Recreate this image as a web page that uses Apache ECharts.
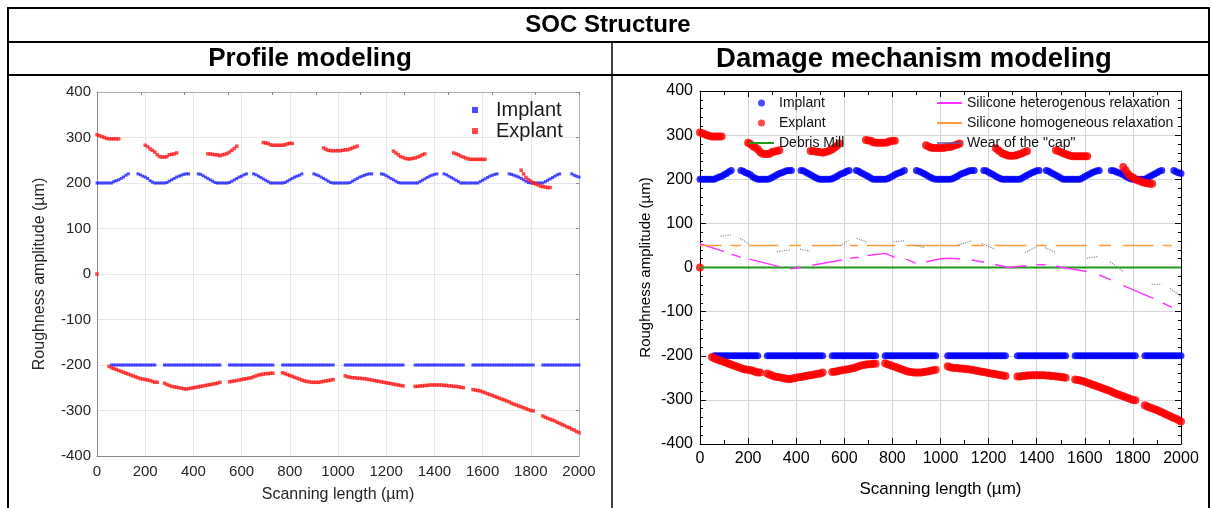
<!DOCTYPE html>
<html><head><meta charset="utf-8">
<script src="https://cdn.jsdelivr.net/npm/echarts@6/dist/echarts.min.js"></script>
<style>html,body{margin:0;padding:0;background:#fff}#c{width:1213px;height:508px}</style>
</head><body><div id="c"></div><script>
// ---------- data (x in µm, y in µm) ----------
const STEP = 10; // sampling step of the scan (µm)
const xTickLabels = [0,200,400,600,800,1000,1200,1400,1600,1800,2000];
const yTickLabels = [-400,-300,-200,-100,0,100,200,300,400];

// Implant, upper profile: [start x, values every STEP]
const implantUpper = [
  [0,    [200,200,200,200,200,200,200,203,205,207,210,213,217,220]],
  [170,  [220,218,215,213,210,205,202,200,200,200,200,200,201,204,207,210,213,215,217,219,220,220]],
  [420,  [220,219,216,213,210,207,204,201,200,200,200,200,200,201,204,207,210,213,215,218,220]],
  [650,  [220,218,215,212,209,206,203,200,200,200,200,200,200,201,204,207,210,213,215,217,220]],
  [900,  [220,218,216,213,210,207,204,201,200,200,200,200,200,200,200,201,204,207,210,213,215,217,219,220,220]],
  [1180, [220,219,216,213,210,207,204,201,200,200,200,200,200,200,200,200,203,206,209,212,215,217,219,220]],
  [1440, [220,218,215,212,209,206,203,200,200,200,200,200,200,200,200,203,206,209,212,215,217,219,220]],
  [1710, [220,219,217,215,213,210,207,204,201,200,200,200,200,200,200,203,206,209,212,215,218,220]],
  [1970, [220,217,215,213]]
];
// Implant, lower profile: flat level with gaps [from x, to x]
const implantLowerLevel = -200;
const implantLowerSpans = [[60,240],[280,510],[550,730],[770,980],[1030,1270],[1320,1520],[1560,1810],[1850,2000]];

// Explant, upper profile
const explantUpper = [
  [0,    [0]],
  [0,    [306,304,302,300,298,297,297,297,297,297]],
  [200,  [283,280,275,272,268,262,258,257,257,258,262,263,264,266]],
  [460,  [264,264,263,262,262,260,262,263,265,268,272,276,281]],
  [690,  [289,288,287,284,283,283,283,283,283,284,286,287,287]],
  [940,  [277,274,272,271,271,271,271,271,272,273,273,275,277,279,281]],
  [1230, [270,266,262,258,256,254,253,253,254,255,257,259,262,264]],
  [1480, [266,264,262,259,257,255,253,252,252,252,252,252,252,252]],
  [1760, [228,220,212,207,204,200,198,196,193,192,191,190,190]]
];
// Explant, lower profile
const explantLower = [
  [50,   [-203,-206,-208,-210,-212,-214,-216,-218,-220,-222,-224,-226,-228,-230,-231,-232,-233,-234,-236,-238,-238]],
  [280,  [-240,-243,-245,-247,-248,-249,-250,-251,-252,-253,-252,-251,-250,-249,-248,-247,-246,-245,-244,-243,-242,-241,-240,-238]],
  [550,  [-237,-236,-235,-234,-233,-232,-231,-230,-229,-228,-226,-224,-222,-221,-220,-219,-219,-218,-218]],
  [770,  [-217,-219,-221,-223,-225,-227,-229,-231,-233,-235,-236,-237,-238,-238,-238,-238,-237,-236,-235,-234,-233,-232]],
  [1030, [-224,-226,-227,-228,-228,-229,-229,-230,-230,-231,-232,-233,-234,-235,-236,-237,-238,-239,-240,-241,-242,-243,-244,-245,-246]],
  [1320, [-247,-247,-246,-246,-245,-245,-244,-244,-244,-244,-244,-244,-245,-245,-246,-246,-247,-247,-248,-249,-250]],
  [1560, [-254,-255,-256,-257,-259,-261,-263,-265,-267,-269,-271,-273,-275,-277,-279,-281,-284,-286,-288,-290,-292,-294,-296,-298,-300,-301]],
  [1850, [-312,-315,-317,-319,-321,-323,-326,-328,-331,-333,-336,-338,-341,-343,-346,-349]]
];

// Damage mechanism curves (right panel)
const debrisMill = [[0,0],[500,0],[1000,0],[1500,0],[2000,0]];
const heteroPieces = [
  [[0,54],[100,36]], [[132,30],[170,23]], [[205,19],[330,2]], [[375,-3],[420,0]],
  [[467,5],[590,17]], [[624,21],[660,23]], [[696,27],[770,32],[810,23]], [[857,19],[897,10]],
  [[940,13],[1000,20],[1040,21],[1081,19]], [[1130,17],[1181,12]], [[1227,7],[1283,0],[1358,4]],
  [[1400,6],[1437,6]], [[1479,3],[1608,-9]], [[1660,-17],[1709,-28]], [[1760,-41],[1885,-70]], [[1924,-80],[1961,-90]]
];
const homoLevel = 50;
const homoSpans = [[0,90],[127,170],[205,326],[371,420],[464,589],[624,658],[693,811],[857,1081],[1130,1181],
  [1227,1358],[1400,1441],[1479,1608],[1660,1709],[1760,1885],[1924,1961]];
const wearPieces = [
  [[85,71],[129,74]], [[166,66],[185,60],[208,51]], [[319,36],[374,40]], [[416,42],[457,37]],
  [[582,49],[617,62]], [[651,66],[693,58]], [[804,58],[852,61]], [[887,51],[935,45]],
  [[1074,51],[1127,60]], [[1171,55],[1227,41]], [[1351,34],[1400,47]], [[1435,45],[1479,34]],
  [[1608,21],[1656,25]], [[1705,13],[1760,-9]], [[1878,-38],[1920,-38]], [[1954,-47],[2000,-66]]
];

// ---------- builders ----------
function segPoints(segs){ const out=[]; segs.forEach(([x0,ys])=>ys.forEach((y,i)=>out.push([x0+i*STEP,y]))); return out; }
function spanPoints(spans, level){ const out=[]; spans.forEach(([a,b])=>{ for(let x=a;x<=b;x+=STEP) out.push([x,level]); }); return out; }
function piecesLine(pieces){ const out=[]; pieces.forEach((p,i)=>{ if(i) out.push([p[0][0]-1,'-']); p.forEach(pt=>out.push(pt)); }); return out; }
function spansLine(spans, level){ return piecesLine(spans.map(([a,b])=>[[a,level],[b,level]])); }

const implantData = segPoints(implantUpper).concat(spanPoints(implantLowerSpans, implantLowerLevel));
const explantData = segPoints(explantUpper).concat(segPoints(explantLower));

const FONT = 'Liberation Sans, Arial, sans-serif';
const chart = echarts.init(document.getElementById('c'), null, {renderer:'canvas'});
const plain = v => String(v);
const X_MIN = xTickLabels[0], X_MAX = xTickLabels[xTickLabels.length-1];
const Y_MIN = yTickLabels[0], Y_MAX = yTickLabels[yTickLabels.length-1];

const Lc = '#262626', Rc = '#000';
function xMain(gi, color, size, gridColor, margin, nameGap, nameSize, tickOpt, minor, lineColor){
  return {type:'value', gridIndex:gi, min:X_MIN, max:X_MAX, interval:200, position:'bottom',
    axisLine:{show:true, onZero:false, lineStyle:{color:lineColor, width:1}},
    axisTick:tickOpt, minorTick:minor,
    axisLabel:{color:color, fontSize:size, fontFamily:FONT, margin:margin, formatter:plain},
    splitLine:{show:true, lineStyle:{color:gridColor, width:1}},
    name:'Scanning length (µm)', nameLocation:'middle', nameGap:nameGap,
    nameTextStyle:{color:color, fontSize:nameSize, fontFamily:FONT}};
}
function yMain(gi, color, size, gridColor, margin, nameGap, nameSize, tickOpt, minor, lineColor){
  return {type:'value', gridIndex:gi, min:Y_MIN, max:Y_MAX, interval:100, position:'left',
    axisLine:{show:true, onZero:false, lineStyle:{color:lineColor, width:1}},
    axisTick:tickOpt, minorTick:minor,
    axisLabel:{color:color, fontSize:size, fontFamily:FONT, margin:margin, formatter:plain},
    splitLine:{show:true, lineStyle:{color:gridColor, width:1}},
    name:'Roughness amplitude (µm)', nameLocation:'middle', nameGap:nameGap,
    nameTextStyle:{color:color, fontSize:nameSize, fontFamily:FONT}};
}
const noSym = {opacity:0};

const option = {
  animation:false,
  backgroundColor:'#fff',
  grid:[
    {left:97, top:92, width:482, height:366},
    {left:700, top:91, width:481, height:353}
  ],
  xAxis:[
    xMain(0, Lc, 15, '#e6e6e6', 8, 31, 16, {show:false}, {show:false}, '#8a8a8a'),
    {type:'value', gridIndex:0, min:X_MIN, max:X_MAX, interval:182, position:'top',
      axisLine:{show:true, onZero:false, lineStyle:{color:'#b0b0b0'}}, axisLabel:{show:false},
      axisTick:{show:true, inside:true, length:3, lineStyle:{color:'#888'}}, splitLine:{show:false}},
    xMain(1, Rc, 16, '#d6d6d6', 7, 37, 17, {show:true, inside:true, length:6, lineStyle:{color:'#000'}},
      {show:true, splitNumber:2, length:4, lineStyle:{color:'#000'}}, '#000'),
    {type:'value', gridIndex:1, min:X_MIN, max:X_MAX, interval:200, position:'top',
      axisLine:{show:true, onZero:false, lineStyle:{color:'#000'}}, axisLabel:{show:false},
      axisTick:{show:true, inside:true, length:6, lineStyle:{color:'#000'}},
      minorTick:{show:true, splitNumber:2, length:4, lineStyle:{color:'#000'}}, splitLine:{show:false}}
  ],
  yAxis:[
    yMain(0, Lc, 15, '#e6e6e6', 6, 49, 16, {show:false}, {show:false}, '#8a8a8a'),
    {type:'value', gridIndex:0, min:Y_MIN, max:Y_MAX, interval:100, position:'right',
      axisLine:{show:true, onZero:false, lineStyle:{color:'#b0b0b0'}}, axisLabel:{show:false},
      axisTick:{show:true, inside:true, length:3, lineStyle:{color:'#888'}}, splitLine:{show:false}},
    yMain(1, Rc, 16, '#d6d6d6', 7, 47, 15, {show:true, inside:true, length:6, lineStyle:{color:'#000'}},
      {show:true, splitNumber:5, length:3, lineStyle:{color:'#000'}}, '#000'),
    {type:'value', gridIndex:1, min:Y_MIN, max:Y_MAX, interval:100, position:'right',
      axisLine:{show:true, onZero:false, lineStyle:{color:'#000'}}, axisLabel:{show:false},
      axisTick:{show:true, inside:true, length:6, lineStyle:{color:'#000'}},
      minorTick:{show:true, splitNumber:5, length:3, lineStyle:{color:'#000'}}, splitLine:{show:false}}
  ],
  legend:[
    {orient:'vertical', left:467, top:95, itemWidth:6, itemHeight:6, itemGap:1,
      textStyle:{fontSize:20, lineHeight:20, color:'#1a1a1a', fontFamily:FONT, padding:[0,0,0,13]},
      data:[{name:'Implant', icon:'rect'},{name:'Explant', icon:'rect'}], selectedMode:false},
    {orient:'vertical', left:743, top:91, itemWidth:25, itemHeight:7, itemGap:6,
      textStyle:{fontSize:14, lineHeight:14, color:'#111', fontFamily:FONT},
      data:[{name:'Implant', icon:'circle'},{name:'Explant', icon:'circle'},{name:'Debris Mill', itemStyle:noSym}], selectedMode:false},
    {orient:'vertical', left:931, top:91, itemWidth:25, itemHeight:7, itemGap:6,
      textStyle:{fontSize:14, lineHeight:14, color:'#111', fontFamily:FONT},
      data:[{name:'Silicone heterogenous relaxation', itemStyle:noSym},{name:'Silicone homogeneous relaxation', itemStyle:noSym},
        {name:'Wear of the "cap"', itemStyle:noSym, lineStyle:{color:'#5b5ba0', type:'solid', width:1.5}}], selectedMode:false}
  ],
  series:[
    {name:'Implant', type:'scatter', xAxisIndex:0, yAxisIndex:0, data:implantData, symbol:'rect', symbolSize:3,
      itemStyle:{color:'#1f1fff'}},
    {name:'Explant', type:'scatter', xAxisIndex:0, yAxisIndex:0, data:explantData, symbol:'rect', symbolSize:3.5,
      itemStyle:{color:'#ff1a1a'}},
    {name:'Implant', type:'scatter', xAxisIndex:2, yAxisIndex:2, data:implantData, symbol:'circle', symbolSize:7,
      itemStyle:{color:'#0000ff'}},
    {name:'Explant', type:'scatter', xAxisIndex:2, yAxisIndex:2, data:explantData, symbol:'circle', symbolSize:8,
      itemStyle:{color:'#ff0000'}},
    {name:'Debris Mill', type:'line', xAxisIndex:2, yAxisIndex:2, data:debrisMill, symbol:'none',
      lineStyle:{color:'#1f9a1f', width:2}, itemStyle:{color:'#1f9a1f'}},
    {name:'Silicone heterogenous relaxation', type:'line', xAxisIndex:2, yAxisIndex:2, data:piecesLine(heteroPieces),
      symbol:'none', connectNulls:false, lineStyle:{color:'#ff33ff', width:1.5}, itemStyle:{color:'#ff33ff'}},
    {name:'Silicone homogeneous relaxation', type:'line', xAxisIndex:2, yAxisIndex:2, data:spansLine(homoSpans, homoLevel),
      symbol:'none', connectNulls:false, lineStyle:{color:'#ff9a3c', width:1.5}, itemStyle:{color:'#ff9a3c'}},
    {name:'Wear of the "cap"', type:'line', xAxisIndex:2, yAxisIndex:2, data:piecesLine(wearPieces),
      symbol:'none', connectNulls:false, lineStyle:{color:'#8a8a8a', width:1.2, type:'dotted'}, itemStyle:{color:'#5b5ba0'}}
  ],
  graphic:[
    {type:'line', shape:{x1:8, y1:8, x2:1209, y2:8}, style:{stroke:'#000', lineWidth:2}},
    {type:'line', shape:{x1:8, y1:42, x2:1209, y2:42}, style:{stroke:'#000', lineWidth:2}},
    {type:'line', shape:{x1:8, y1:75, x2:1209, y2:75}, style:{stroke:'#000', lineWidth:2}},
    {type:'line', shape:{x1:8, y1:7, x2:8, y2:508}, style:{stroke:'#000', lineWidth:2}},
    {type:'line', shape:{x1:1209, y1:7, x2:1209, y2:508}, style:{stroke:'#000', lineWidth:2}},
    {type:'line', shape:{x1:612, y1:42, x2:612, y2:508}, style:{stroke:'#000', lineWidth:1.5}},
    {type:'text', x:608, y:25, style:{text:'SOC Structure', fill:'#000', font:'bold 24px "Liberation Sans", Arial', align:'center', verticalAlign:'middle'}},
    {type:'text', x:310, y:59, style:{text:'Profile modeling', fill:'#000', font:'bold 26px "Liberation Sans", Arial', align:'center', verticalAlign:'middle'}},
    {type:'text', x:914, y:59, style:{text:'Damage mechanism modeling', fill:'#000', font:'bold 27.5px "Liberation Sans", Arial', align:'center', verticalAlign:'middle'}}
  ]
};
chart.setOption(option);
</script></body></html>
